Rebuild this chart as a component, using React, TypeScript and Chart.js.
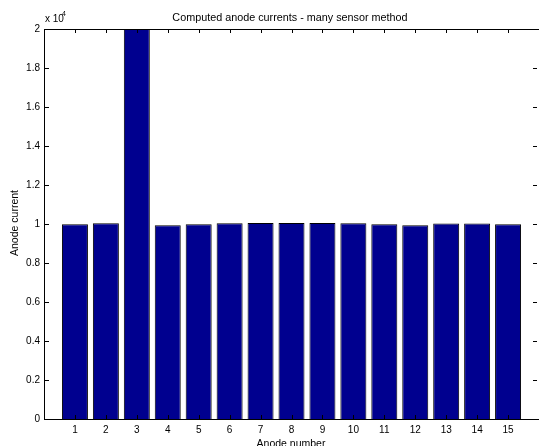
import React, { useEffect, useRef } from 'react';
import { Chart, registerables } from 'chart.js';

Chart.register(...registerables);

const anodeNumbers = [1, 2, 3, 4, 5, 6, 7, 8, 9, 10, 11, 12, 13, 14, 15];
const anodeCurrents = [9990, 10040, 20000, 9940, 9990, 10040, 10050, 10050, 10050, 10040, 9990, 9940, 10020, 10020, 9990];
const yTickValues = [0, 2000, 4000, 6000, 8000, 10000, 12000, 14000, 16000, 18000, 20000];

const titleText = 'Computed anode currents - many sensor method';
const xLabel = 'Anode number';
const yLabel = 'Anode current';
const FONT = '"Liberation Sans", Arial, Helvetica, sans-serif';

const matlabPlugin = {
  id: 'matlabAxes',
  afterDraw(chart: any) {
    const { ctx, chartArea, scales } = chart;
    const { left, right, top, bottom } = chartArea;
    const x = scales.x;
    const y = scales.y;
    ctx.save();
    ctx.strokeStyle = '#000';
    ctx.lineWidth = 1;
    ctx.beginPath();
    // box (right edge falls outside the picture)
    ctx.moveTo(left + 0.5, top + 0.5);
    ctx.lineTo(right, top + 0.5);
    ctx.moveTo(left + 0.5, top);
    ctx.lineTo(left + 0.5, bottom + 0.5);
    ctx.moveTo(left, bottom + 0.5);
    ctx.lineTo(right, bottom + 0.5);
    // y ticks inward
    yTickValues.forEach((v) => {
      const py = Math.round(y.getPixelForValue(v)) + 0.5;
      ctx.moveTo(left, py);
      ctx.lineTo(left + 5, py);
      ctx.moveTo(right - 2, py);
      ctx.lineTo(right - 6, py);
    });
    // x ticks inward
    anodeNumbers.forEach((v) => {
      const px = Math.round(x.getPixelForValue(v)) + 0.5;
      ctx.moveTo(px, top);
      ctx.lineTo(px, top + 4);
      ctx.moveTo(px, bottom);
      ctx.lineTo(px, bottom - 4);
    });
    ctx.stroke();

    ctx.fillStyle = '#000';
    ctx.textBaseline = 'alphabetic';
    ctx.textAlign = 'center';
    ctx.font = '10.8px ' + FONT;
    ctx.fillText(titleText, 290, 21);
    ctx.font = '10.5px ' + FONT;
    ctx.fillText(xLabel, 291, 447);
    ctx.textAlign = 'left';
    ctx.font = '10px ' + FONT;
    ctx.fillText('x 10', 45, 22);
    ctx.font = '7px ' + FONT;
    ctx.fillText('4', 62, 16);
    ctx.font = '10.5px ' + FONT;
    ctx.translate(18, 223);
    ctx.rotate(-Math.PI / 2);
    ctx.textAlign = 'center';
    ctx.fillText(yLabel, 0, 0);
    ctx.restore();
  },
};

export default function App() {
  const canvasRef = useRef<HTMLCanvasElement | null>(null);

  useEffect(() => {
    document.body.style.margin = '0';
    const canvas = canvasRef.current;
    if (!canvas) return;
    const chart = new Chart(canvas, {
      type: 'bar',
      data: {
        datasets: [
          {
            data: anodeNumbers.map((n, i) => ({ x: n, y: anodeCurrents[i] })),
            backgroundColor: '#00008f',
            borderColor: '#000000',
            borderWidth: 1,
            categoryPercentage: 1,
            barPercentage: 0.84,
          },
        ],
      },
      options: {
        animation: false,
        responsive: false,
        devicePixelRatio: 1,
        layout: { padding: { top: 29, right: 0, left: 0, bottom: 0 } },
        plugins: {
          legend: { display: false },
          tooltip: { enabled: false },
          title: { display: false },
        },
        scales: {
          x: {
            type: 'linear',
            min: 0,
            max: 16,
            offset: false,
            grid: { display: false, drawTicks: false },
            border: { display: false },
            afterBuildTicks: (scale: any) => {
              scale.ticks = anodeNumbers.map((v) => ({ value: v }));
            },
            afterFit: (scale: any) => {
              scale.height = 27;
            },
            ticks: {
              autoSkip: false,
              maxRotation: 0,
              padding: 5,
              color: '#000',
              font: { family: FONT, size: 10 },
              callback: (v: any) => String(v),
            },
          },
          y: {
            min: 0,
            max: 20000,
            grid: { display: false, drawTicks: false },
            border: { display: false },
            afterBuildTicks: (scale: any) => {
              scale.ticks = yTickValues.map((v) => ({ value: v }));
            },
            afterFit: (scale: any) => {
              scale.width = 44;
            },
            ticks: {
              padding: 4,
              color: '#000',
              font: { family: FONT, size: 10 },
              callback: (v: any) => String(Math.round(Number(v) / 1000) / 10),
            },
          },
        },
      },
      plugins: [matlabPlugin],
    } as any);
    return () => chart.destroy();
  }, []);

  return <canvas ref={canvasRef} width={539} height={446} style={{ display: 'block' }} />;
}
